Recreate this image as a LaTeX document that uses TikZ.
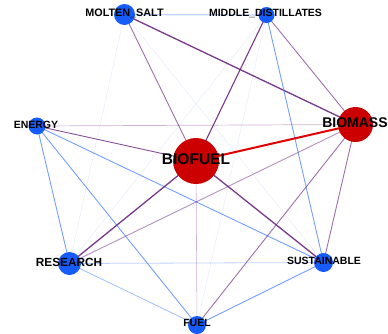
\documentclass[tikz,border=0pt]{standalone}
\usepackage{fontspec}
\setmainfont{Liberation Sans}
\usetikzlibrary{backgrounds}

\definecolor{nodeblue}{RGB}{22,92,250}
\definecolor{nodered}{RGB}{204,0,0}
\definecolor{edgepurple}{RGB}{105,35,125}
\definecolor{edgeblue}{RGB}{70,125,255}
\definecolor{edgered}{RGB}{225,0,0}

\tikzset{
	every picture/.style={line width=0.75pt},
	term/.style={circle, inner sep=0pt, draw=none},
	bluenode/.style={term, fill=nodeblue},
	rednode/.style={term, fill=nodered},
	lbl/.style={inner sep=0pt, text=black, font=\bfseries\fontsize{10.5}{12}\selectfont},
	biglbl/.style={lbl, font=\bfseries\fontsize{#1}{#1}\selectfont},
	strongp/.style={draw=edgepurple, line width=1.3pt, opacity=0.9},
	midp/.style={draw=edgepurple, line width=0.9pt, opacity=0.65},
	weakp/.style={draw=edgepurple, line width=0.7pt, opacity=0.35},
	midb/.style={draw=edgeblue, line width=0.9pt, opacity=0.75},
	weakb/.style={draw=edgeblue, line width=0.8pt, opacity=0.35},
	faintb/.style={draw=edgeblue, line width=0.6pt, opacity=0.12},
	redlink/.style={draw=edgered, line width=2pt}
}

\begin{document}
\begin{tikzpicture}[x=1pt,y=1pt,yscale=-1,xscale=1]
	\useasboundingbox (0,0) rectangle (388,333);

	% Term circles
	\node [bluenode, minimum size=21pt] (molten) at (124.5,14.5) {};
	\node [bluenode, minimum size=16pt] (middle) at (266.5,15) {};
	\node [bluenode, minimum size=17pt] (energy) at (37,126) {};
	\node [rednode, minimum size=35pt] (biomass) at (355.5,124.5) {};
	\node [rednode, minimum size=46pt] (biofuel) at (196,161) {};
	\node [bluenode, minimum size=23pt] (research) at (69.5,263.5) {};
	\node [bluenode, minimum size=19pt] (sustain) at (323.5,262.5) {};
	\node [bluenode, minimum size=18pt] (fuel) at (197,325) {};

	% Links
	\begin{scope}[on background layer]
		\draw [faintb] (molten.center) -- (research.center);
		\draw [faintb] (molten.center) -- (sustain.center);
		\draw [faintb] (middle.center) -- (research.center);
		\draw [faintb] (middle.center) -- (fuel.center);
		\draw [weakb, line width=1.2pt] (molten.center) -- (middle.center);
		\draw [strongp] (molten.center) -- (biomass.center);
		\draw [midp] (molten.center) -- (biofuel.center);
		\draw [strongp, line width=1.1pt] (middle.center) -- (biofuel.center);
		\draw [midp] (middle.center) -- (biomass.center);
		\draw [midb] (middle.center) -- (sustain.center);
		\draw [weakp] (energy.center) -- (biomass.center);
		\draw [midp, opacity=0.8] (energy.center) -- (biofuel.center);
		\draw [midb] (energy.center) -- (research.center);
		\draw [midb] (energy.center) -- (fuel.center);
		\draw [midb] (energy.center) -- (sustain.center);
		\draw [redlink] (biofuel.center) -- (biomass.center);
		\draw [strongp] (biofuel.center) -- (research.center);
		\draw [strongp] (biofuel.center) -- (sustain.center);
		\draw [weakp, line width=0.6pt] (biofuel.center) -- (fuel.center);
		\draw [midp, opacity=0.5] (biomass.center) -- (research.center);
		\draw [midp] (biomass.center) -- (fuel.center);
		\draw [midp] (biomass.center) -- (sustain.center);
		\draw [weakb] (research.center) -- (sustain.center);
		\draw [weakb, opacity=0.5] (research.center) -- (fuel.center);
		\draw [midb] (sustain.center) -- (fuel.center);
	\end{scope}

	% Text Nodes
	\node [lbl, font=\bfseries\fontsize{10.8}{12}\selectfont] (tmolten) at (124.5,13.5) {MOLTEN\_SALT};
	\node [lbl] (tmiddle) at (265.5,13) {MIDDLE\_DISTILLATES};
	\node [lbl] (tenergy) at (36,125) {ENERGY};
	\node [biglbl=14] (tbiomass) at (355,123) {BIOMASS};
	\node [biglbl=15.5] (tbiofuel) at (196,159) {BIOFUEL};
	\node [biglbl=11.8] (tresearch) at (69,262) {RESEARCH};
	\node [lbl] (tsustain) at (324,261) {SUSTAINABLE};
	\node [lbl] (tfuel) at (197,323) {FUEL};

\end{tikzpicture}
\end{document}
